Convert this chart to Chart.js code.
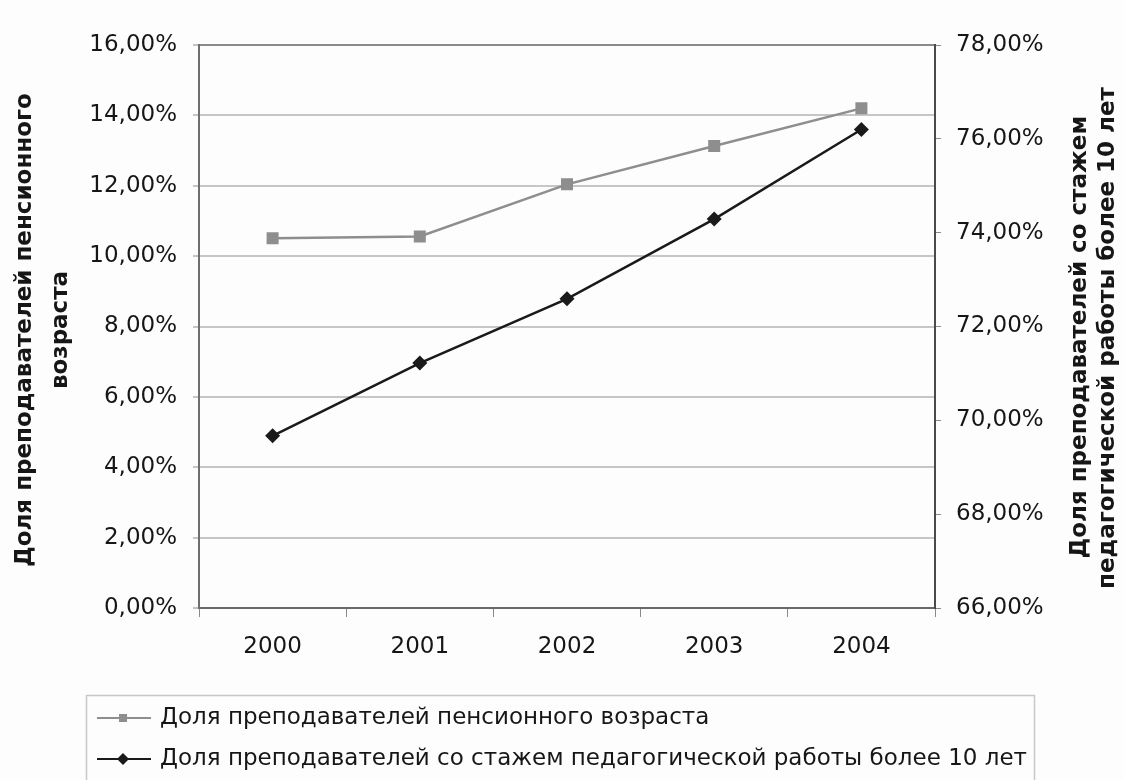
<!DOCTYPE html>
<html lang="ru">
<head>
<meta charset="utf-8">
<title>Доля преподавателей</title>
<script src="https://cdn.jsdelivr.net/npm/chart.js@4/dist/chart.umd.min.js"></script>
<style>
  html, body { margin: 0; padding: 0; background: #fdfdfd; }
  #wrap { width: 1124px; height: 780px; position: relative; }
</style>
</head>
<body>
<div id="wrap"><canvas id="chart" width="1124" height="780"></canvas></div>
<script>
// Years on the category axis
const years = ['2000', '2001', '2002', '2003', '2004'];

// Share of teachers of retirement age, % (left axis)
const pensionShare = [10.51, 10.56, 12.04, 13.13, 14.20];

// Share of teachers with over 10 years of teaching experience, % (right axis)
const experienceShare = [69.67, 71.22, 72.59, 74.29, 76.20];

// Axis ranges and tick step
const leftRange = [0, 16];
const rightRange = [66, 78];
const tickStep = 2;

const seriesNames = [
  'Доля преподавателей пенсионного возраста',
  'Доля преподавателей со стажем педагогической работы более 10 лет'
];
const leftTitle = ['Доля преподавателей пенсионного', 'возраста'];
const rightTitle = ['Доля преподавателей со стажем', 'педагогической работы более 10 лет'];

const FONT = '"DejaVu Sans", "Liberation Sans", Arial, sans-serif';
const TEXT = '#161616';

const pct = v => v.toFixed(2).replace('.', ',') + '%';

// Rotated axis titles and the boxed legend below the plot
const decorations = {
  id: 'decorations',
  afterDraw(chart) {
    const ctx = chart.ctx;
    ctx.save();
    ctx.fillStyle = TEXT;
    ctx.font = 'bold 23px ' + FONT;
    ctx.textAlign = 'center';
    ctx.textBaseline = 'middle';
    const vTitle = (text, x, y) => {
      ctx.save();
      ctx.translate(x, y);
      ctx.rotate(-Math.PI / 2);
      ctx.fillText(text, 0, 0);
      ctx.restore();
    };
    vTitle(leftTitle[0], 25, 330);
    vTitle(leftTitle[1], 61, 330);
    vTitle(rightTitle[0], 1080, 337);
    vTitle(rightTitle[1], 1108, 338);

    // legend frame
    ctx.strokeStyle = '#c8c8c8';
    ctx.lineWidth = 1.5;
    ctx.strokeRect(86.5, 695.5, 948, 120);

    const rows = [718, 759];
    chart.data.datasets.forEach((ds, i) => {
      const y = rows[i];
      ctx.strokeStyle = ds.borderColor;
      ctx.lineWidth = 2;
      ctx.beginPath();
      ctx.moveTo(97, y);
      ctx.lineTo(151, y);
      ctx.stroke();
      ctx.fillStyle = ds.pointBackgroundColor;
      ctx.beginPath();
      if (ds.pointStyle === 'rect') {
        ctx.rect(119, y - 4, 8, 8);
      } else {
        ctx.moveTo(123, y - 6);
        ctx.lineTo(129, y);
        ctx.lineTo(123, y + 6);
        ctx.lineTo(117, y);
        ctx.closePath();
      }
      ctx.fill();
      ctx.fillStyle = TEXT;
      ctx.font = '23px ' + FONT;
      ctx.textAlign = 'left';
      ctx.fillText(seriesNames[i], 160, y);
    });
    ctx.restore();
  }
};

const tickFont = { family: FONT, size: 23 };

new Chart(document.getElementById('chart'), {
  type: 'line',
  data: {
    labels: years,
    datasets: [
      {
        label: seriesNames[0],
        data: pensionShare,
        yAxisID: 'y',
        borderColor: '#8e8e8e',
        backgroundColor: '#8e8e8e',
        pointBackgroundColor: '#8e8e8e',
        pointBorderColor: '#8e8e8e',
        borderWidth: 2.5,
        pointStyle: 'rect',
        pointRadius: 8.5,
        pointBorderWidth: 0,
        tension: 0
      },
      {
        label: seriesNames[1],
        data: experienceShare,
        yAxisID: 'y1',
        borderColor: '#1a1a1a',
        backgroundColor: '#1a1a1a',
        pointBackgroundColor: '#1a1a1a',
        pointBorderColor: '#1a1a1a',
        borderWidth: 2.5,
        pointStyle: 'rectRot',
        pointRadius: 7.5,
        pointBorderWidth: 0,
        tension: 0
      }
    ]
  },
  options: {
    responsive: false,
    animation: false,
    layout: { padding: { top: 45, left: 0, right: 0, bottom: 0 } },
    plugins: {
      legend: { display: false },
      tooltip: { enabled: false },
      title: { display: false }
    },
    scales: {
      x: {
        type: 'category',
        offset: true,
        afterFit: s => { s.height = 172; },
        grid: {
          offset: true,
          drawOnChartArea: false,
          drawTicks: true,
          tickLength: 9,
          color: '#8a8a8a',
          lineWidth: 1
        },
        border: { color: '#6a6a6a', width: 2 },
        ticks: { color: TEXT, font: tickFont, padding: 16 }
      },
      y: {
        position: 'left',
        min: leftRange[0],
        max: leftRange[1],
        afterFit: s => { s.width = 199; },
        grid: {
          color: ctx => (ctx.tick && ctx.tick.value === leftRange[1]) ? '#8a8a8a' : '#c6c6c6',
          lineWidth: 2,
          tickColor: '#8a8a8a',
          tickLength: 6,
          tickWidth: 1
        },
        border: { color: '#6e6e6e', width: 2 },
        ticks: {
          stepSize: tickStep,
          color: TEXT,
          font: tickFont,
          padding: 16,
          callback: v => pct(v)
        }
      },
      y1: {
        position: 'right',
        min: rightRange[0],
        max: rightRange[1],
        afterFit: s => { s.width = 189; },
        grid: {
          drawOnChartArea: false,
          color: '#8a8a8a',
          tickLength: 6,
          lineWidth: 1
        },
        border: { color: '#4a4a4a', width: 2 },
        ticks: {
          stepSize: tickStep,
          color: TEXT,
          font: tickFont,
          padding: 15,
          callback: v => pct(v)
        }
      }
    }
  },
  plugins: [decorations]
});
</script>
</body>
</html>
